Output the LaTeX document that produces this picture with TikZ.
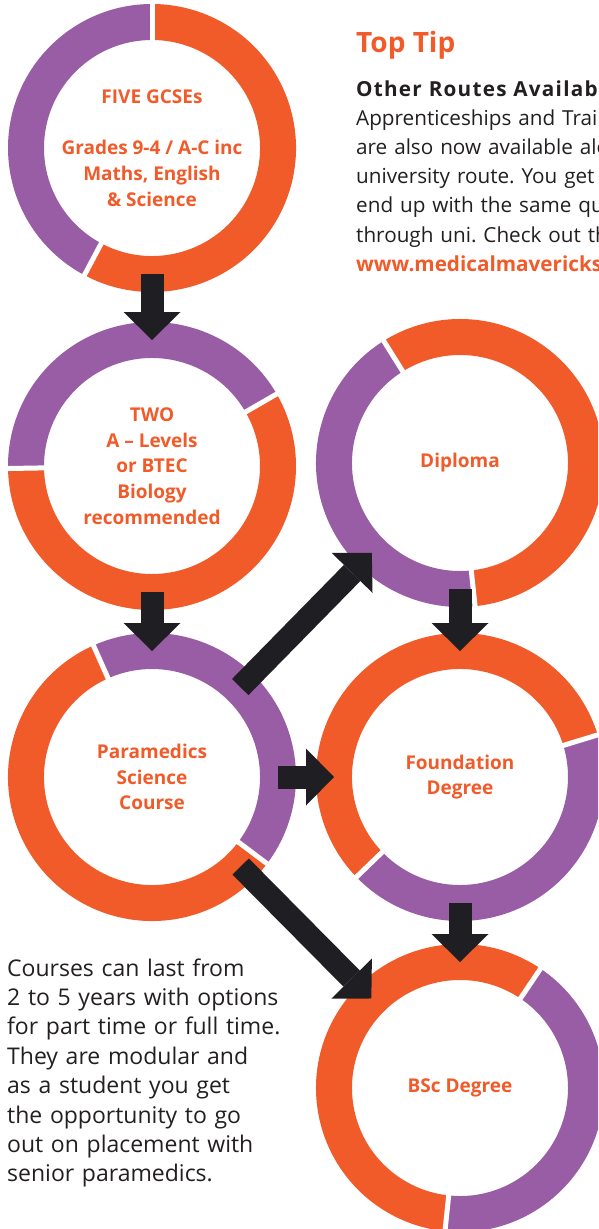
\documentclass[tikz,border=0pt]{standalone}
\usepackage{fontspec}
\setmainfont{Open Sans}
\usepackage{tikz}
\usetikzlibrary{arrows.meta,calc}
\frenchspacing
\definecolor{Ink}{HTML}{231F20}
\definecolor{ArrowInk}{HTML}{1F1E23}
\definecolor{Orange}{HTML}{F15A29}
\definecolor{Purple}{HTML}{995DA5}
\tikzset{
  stage/.style={circle,minimum size=252pt,inner sep=0pt,outer sep=0pt,align=center,text=Orange,font=\fontsize{19}{25.7}\selectfont\bfseries},
  ring/.style={line width=36pt},
  gapcut/.style={draw=white,line width=5pt},
  flowarrow/.style={-{Triangle[width=57pt,length=28pt,line width=0pt]},line width=23pt,draw=ArrowInk},
  note/.style={anchor=base west,inner sep=0pt,align=left,text=Ink},
  heading/.style={anchor=base west,inner sep=0pt,text=Orange,font=\fontsize{28}{30}\selectfont\bfseries}
}
\begin{document}
\begin{tikzpicture}[x=1pt,y=1pt]
  \useasboundingbox (0,0) rectangle (598,-1229);
  \clip (0,0) rectangle (598,-1229);
  \node[stage] (gcse) at (152,-148) {FIVE GCSEs\\[25.7pt]Grades 9-4 / A-C inc\\Maths, English\\\& Science};
  \node[stage] (alev) at (152,-466) {TWO\\A – Levels\\or BTEC\\Biology\\recommended};
  \node[stage] (para) at (152,-777) {Paramedics\\Science\\Course};
  \node[stage] (dipl) at (460,-463) {Diploma};
  \node[stage] (found) at (460,-777) {Foundation\\Degree};
  \node[stage] (bsc) at (460,-1088) {BSc Degree};
  \foreach \c/\a/\b/\one/\two in {gcse/90/242/Purple/Orange,alev/30/181/Purple/Orange,para/114/323/Orange/Purple,dipl/122/276/Purple/Orange,found/17/224/Orange/Purple,bsc/56/264/Orange/Purple}{
    \draw[ring,draw=\one] (\c.\a) arc[start angle=\a,end angle=\b,radius=126pt];
    \draw[ring,draw=\two] (\c.\b) arc[start angle=\b,end angle=\a+360,radius=126pt];
    \draw[gapcut] ($(\c)+(\a:104)$) -- ($(\c)+(\a:148)$);
    \draw[gapcut] ($(\c)+(\b:104)$) -- ($(\c)+(\b:148)$);
  }
  \draw[flowarrow] (gcse) -- (alev);
  \draw[flowarrow] (alev) -- (para);
  \draw[flowarrow] (para) -- (dipl);
  \draw[flowarrow] (para) -- (found);
  \draw[flowarrow] (para) -- (bsc);
  \draw[flowarrow] (dipl) -- (found);
  \draw[flowarrow] (found) -- (bsc);
  \node[heading] (toptip) at (356,-52) {Top Tip};
  \node[note,text width=420pt,font=\fontsize{20.7}{29.2}\selectfont] (routes) at (356,-96) {{\bfseries\addfontfeature{LetterSpace=6}Other Routes Available}\\Apprenticeships and Training\\are also now available alongside the\\university route. You get\\end up with the same qualification\\through uni. Check out the\\{\bfseries\color{Orange}www.medicalmavericks.co.uk}};
  \node[note,text width=300pt,font=\fontsize{23}{29.4}\selectfont] (courses) at (7,-976) {Courses can last from\\2 to 5 years with options\\for part time or full time.\\They are modular and\\as a student you get\\the opportunity to go\\out on placement with\\senior paramedics.};
\end{tikzpicture}
\end{document}
